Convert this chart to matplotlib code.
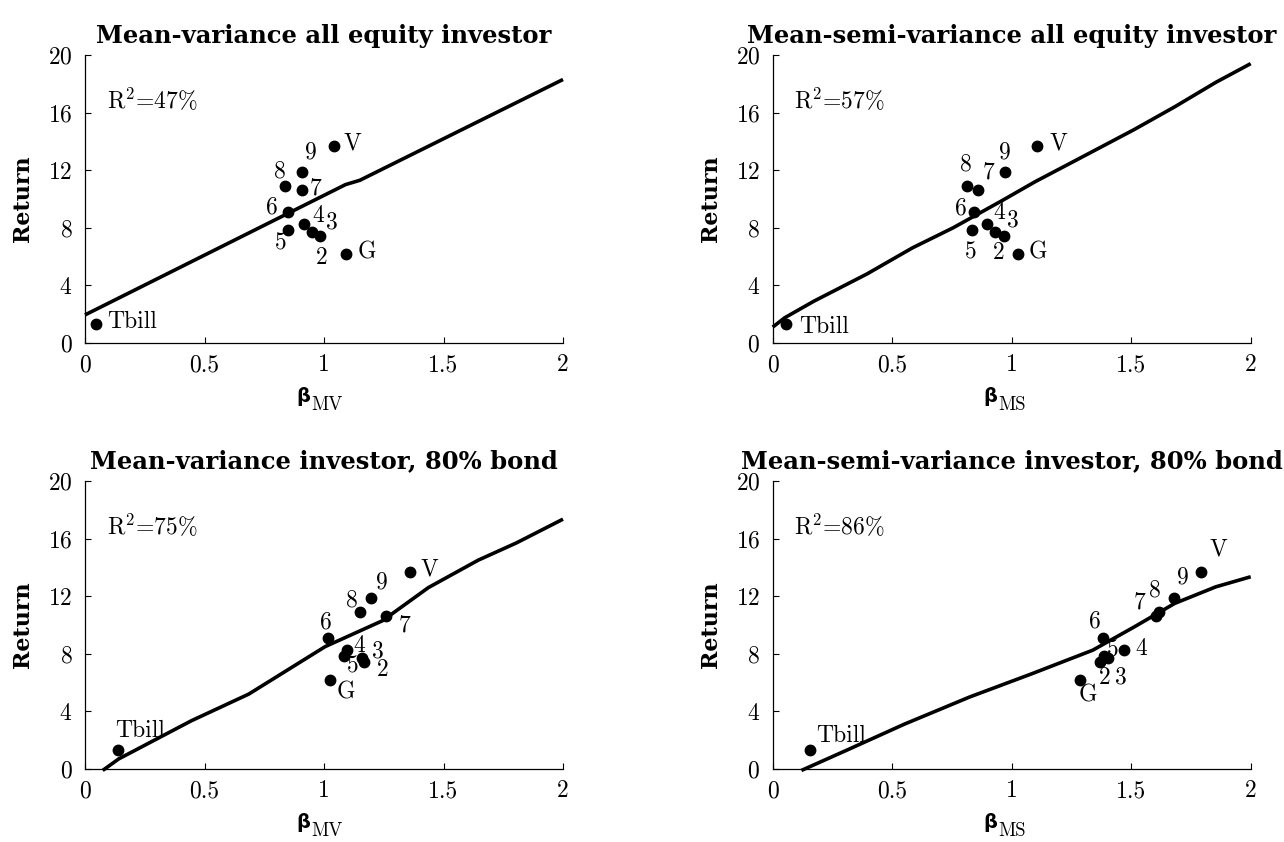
import numpy as np
import matplotlib
matplotlib.use("Agg")
import matplotlib.pyplot as plt

plt.rcParams["font.family"] = ["cmr10", "DejaVu Serif"]
plt.rcParams["axes.formatter.use_mathtext"] = True
plt.rcParams["mathtext.fontset"] = "custom"
plt.rcParams["mathtext.rm"] = "cmr10"
plt.rcParams["mathtext.it"] = "cmmi10"
plt.rcParams["mathtext.bf"] = "DejaVu Sans:bold"

# ------------------------------------------------------------
# data
# ------------------------------------------------------------
labels = ["Tbill", "2", "3", "4", "5", "6", "7", "8", "9", "G", "V"]
returns = [1.35, 7.4, 7.7, 8.25, 7.85, 9.1, 10.6, 10.9, 11.85, 6.2, 13.65]

beta_mv_eq = [0.048, 0.984, 0.949, 0.917, 0.851, 0.848, 0.907, 0.838, 0.907, 1.093, 1.04]
beta_ms_eq = [0.055, 0.966, 0.930, 0.898, 0.833, 0.841, 0.858, 0.815, 0.973, 1.025, 1.107]
beta_mv_bd = [0.139, 1.168, 1.157, 1.098, 1.082, 1.016, 1.261, 1.149, 1.197, 1.024, 1.36]
beta_ms_bd = [0.155, 1.368, 1.403, 1.468, 1.387, 1.382, 1.602, 1.617, 1.677, 1.284, 1.794]

line_mv_eq_x = [0, 1.09, 1.15, 2]
line_mv_eq_y = [1.95, 11.0, 11.3, 18.3]
line_ms_eq_x = [0, 0.05, 0.172, 0.395, 0.584, 0.755, 0.961, 1.098, 1.27, 1.51, 1.682, 1.854, 2]
line_ms_eq_y = [1.1, 1.75, 2.9, 4.8, 6.6, 8.0, 9.9, 11.2, 12.7, 14.8, 16.4, 18.1, 19.4]
line_mv_bd_x = [0.074, 0.141, 0.445, 0.685, 1.005, 1.245, 1.437, 1.645, 1.805, 2]
line_mv_bd_y = [-0.1, 0.7, 3.35, 5.2, 8.5, 10.3, 12.6, 14.5, 15.7, 17.35]
line_ms_bd_x = [0.12, 0.309, 0.549, 0.824, 1.082, 1.339, 1.511, 1.682, 1.854, 2]
line_ms_bd_y = [-0.1, 1.3, 3.1, 5.0, 6.6, 8.25, 9.85, 11.5, 12.65, 13.35]

r2 = ["47%", "57%", "75%", "86%"]
titles = ["Mean-variance all equity investor",
          "Mean-semi-variance all equity investor",
          "Mean-variance investor, 80% bond",
          "Mean-semi-variance investor, 80% bond"]
subs = ["MV", "MS", "MV", "MS"]

# label offsets in pixels (dx, dy, ha)
offs_1 = {"Tbill": (11, 2, "left"), "V": (10, 3, "left"), "9": (9, 20, "center"),
          "8": (-5, 15, "center"), "7": (14, 2, "center"), "6": (-16, 5, "center"),
          "4": (14, 8, "center"), "3": (20, 10, "center"), "5": (-8, -13, "center"),
          "2": (2, -21, "center"), "G": (11, 1, "left")}
offs_2 = {"Tbill": (13, -3, "left"), "V": (12, 3, "left"), "9": (0, 20, "center"),
          "8": (-2, 22, "center"), "7": (11, 18, "center"), "6": (-13, 4, "center"),
          "4": (12, 11, "center"), "3": (18, 12, "center"), "5": (-1, -22, "center"),
          "2": (-5, -16, "center"), "G": (11, 1, "left")}
offs_3 = {"Tbill": (-3, 19, "left"), "V": (11, 3, "left"), "9": (11, 16, "center"),
          "8": (-8, 12, "center"), "7": (18, -9, "center"), "6": (-2, 16, "center"),
          "4": (12, 4, "center"), "3": (16, 7, "center"), "5": (9, -10, "center"),
          "2": (19, -7, "center"), "G": (16, -13, "center")}
offs_4 = {"Tbill": (6, 14, "left"), "V": (17, 23, "center"), "9": (9, 21, "center"),
          "8": (-4, 22, "center"), "7": (-16, 14, "center"), "6": (-8, 17, "center"),
          "4": (18, 1, "center"), "5": (9, 6, "center"), "3": (13, -19, "center"),
          "2": (5, -15, "center"), "G": (8, -16, "center")}

panels = [
    (beta_mv_eq, line_mv_eq_x, line_mv_eq_y, offs_1),
    (beta_ms_eq, line_ms_eq_x, line_ms_eq_y, offs_2),
    (beta_mv_bd, line_mv_bd_x, line_mv_bd_y, offs_3),
    (beta_ms_bd, line_ms_bd_x, line_ms_bd_y, offs_4),
]

W, H = 1284, 842
rects = [(85, 55), (772.7, 55), (85, 481), (772.7, 481)]
aw, ah = 478, 288

fig = plt.figure(figsize=(W / 100, H / 100), dpi=100)

for i, (betas, lx, ly, offs) in enumerate(panels):
    px, py = rects[i]
    ax = fig.add_axes([px / W, 1 - (py + ah) / H, aw / W, ah / H])

    ax.plot(lx, ly, color="black", lw=2.6, clip_on=False, solid_capstyle="butt")
    ax.plot(betas, returns, "o", color="black", ms=7.5, clip_on=False)

    for lab, bx, ry in zip(labels, betas, returns):
        dx, dy, ha = offs[lab]
        ax.annotate(lab, (bx, ry), xytext=(dx, dy), textcoords="offset pixels",
                    ha=ha, va="center", fontsize=17)

    ax.text(0.09, 16.9, "R$^2$=" + r2[i], fontsize=17, ha="left", va="center")

    ax.set_xlim(0, 2)
    ax.set_ylim(0, 20)
    ax.set_xticks([0, 0.5, 1, 1.5, 2])
    ax.set_xticklabels(["0", "0.5", "1", "1.5", "2"])
    ax.set_yticks([0, 4, 8, 12, 16, 20])
    ax.tick_params(direction="in", length=4, width=0.8, labelsize=17)
    ax.tick_params(axis="x", pad=8)
    ax.tick_params(axis="y", pad=9)
    for s in ["top", "right"]:
        ax.spines[s].set_visible(False)
    for s in ["left", "bottom"]:
        ax.spines[s].set_linewidth(0.9)

    ax.set_title(titles[i], family="DejaVu Serif", fontweight="bold", fontsize=17.5, pad=9)
    ax.set_ylabel("Return", family="DejaVu Serif", fontweight="bold", fontsize=16, labelpad=10)

    # x label: bold beta with roman subscript
    ax.annotate("β", (0.5, 0), xycoords="axes fraction", xytext=(-21, -54),
                textcoords="offset pixels", ha="center", va="center",
                family="DejaVu Sans", fontweight="bold", fontsize=14)
    ax.annotate(subs[i], (0.5, 0), xycoords="axes fraction", xytext=(-13, -67),
                textcoords="offset pixels", ha="left", va="baseline", fontsize=13.5)

fig.savefig("out.png", dpi=100)
